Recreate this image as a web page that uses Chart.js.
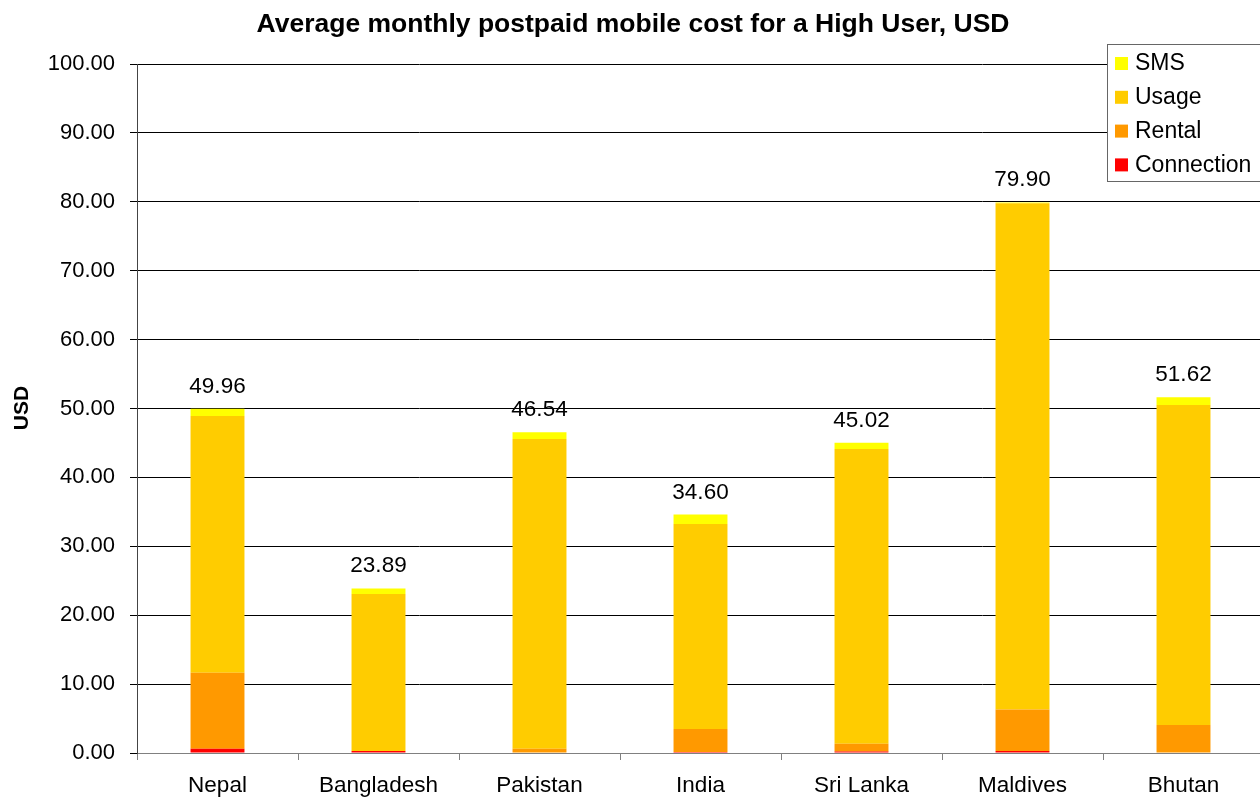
<!DOCTYPE html>
<html lang="en">
<head>
  <meta charset="UTF-8">
  <title>Postpaid mobile cost</title>
  <script src="https://cdn.jsdelivr.net/npm/chart.js"></script>
  <style>
    html, body { margin: 0; padding: 0; overflow: hidden; background: #fff; }
    #wrap { width: 1270px; height: 801px; }
  </style>
</head>
<body>
  <div id="wrap">
    <canvas id="chart" width="1270" height="801"></canvas>
  </div>
  <script>

const countries = ['Nepal', 'Bangladesh', 'Pakistan', 'India', 'Sri Lanka', 'Maldives', 'Bhutan'];
const connection = [0.60, 0.30, 0.00, 0.15, 0.20, 0.30, 0.00];
const rental     = [11.05, 0.00, 0.60, 3.33, 1.15, 6.00, 4.06];
const usage      = [37.25, 22.78, 44.97, 29.76, 42.77, 73.50, 46.44];
const sms        = [1.06, 0.81, 0.97, 1.36, 0.90, 0.10, 1.12];
const yTicks = [0, 10, 20, 30, 40, 50, 60, 70, 80, 90, 100];

const font = 'Liberation Sans, Arial, sans-serif';

// title, totals above bars, and the boxed legend at the top right
const extras = {
  id: 'extras',
  afterDraw(chart) {
    const ctx = chart.ctx;
    const y = chart.scales.y;
    ctx.save();
    ctx.fillStyle = '#000';
    ctx.textAlign = 'center';
    ctx.textBaseline = 'middle';
    ctx.font = 'bold 26.5px ' + font;
    ctx.fillText('Average monthly postpaid mobile cost for a High User, USD', 633, 25);

    // y axis title
    ctx.font = 'bold 21px ' + font;
    ctx.save();
    ctx.translate(22, 408);
    ctx.rotate(-Math.PI / 2);
    ctx.fillText('USD', 0, 0);
    ctx.restore();

    // totals
    ctx.font = '22.5px ' + font;
    ctx.textBaseline = 'bottom';
    const top = chart.getDatasetMeta(chart.data.datasets.length - 1);
    countries.forEach((c, i) => {
      const total = connection[i] + rental[i] + usage[i] + sms[i];
      ctx.fillText(total.toFixed(2), top.data[i].x, y.getPixelForValue(total) - 11);
    });

    // legend
    ctx.fillStyle = '#fff';
    ctx.fillRect(1107, 44, 160, 137);
    ctx.strokeStyle = '#666';
    ctx.lineWidth = 1;
    ctx.strokeRect(1107.5, 44.5, 160, 137);
    ctx.font = '23px ' + font;
    ctx.textAlign = 'left';
    ctx.textBaseline = 'middle';
    const ds = chart.data.datasets.slice().reverse();
    ds.forEach((d, k) => {
      const ly = 63 + k * 33.8;
      ctx.fillStyle = d.backgroundColor;
      ctx.fillRect(1115, ly - 6, 13, 13);
      ctx.fillStyle = '#000';
      ctx.fillText(d.label, 1135, ly + 1);
    });
    ctx.restore();
  }
};

const ctx = document.getElementById('chart');

const myChart = new Chart(ctx, {
  type: 'bar',
  data: {
    labels: countries,
    datasets: [
      { label: 'Connection', data: connection, backgroundColor: '#FF0000' },
      { label: 'Rental', data: rental, backgroundColor: '#FF9900' },
      { label: 'Usage', data: usage, backgroundColor: '#FFCC00' },
      { label: 'SMS', data: sms, backgroundColor: '#FFFF00' }
    ]
  },
  options: {
    responsive: false,
    animation: false,
    layout: { padding: { top: 64, right: 6, left: 0, bottom: 0 } },
    datasets: { bar: { categoryPercentage: 1, barPercentage: 0.335 } },
    plugins: {
      legend: { display: false },
      tooltip: { enabled: false }
    },
    scales: {
      x: {
        stacked: true,
        grid: { offset: true, drawOnChartArea: false, tickLength: 7, color: '#808080' },
        border: { color: '#808080' },
        ticks: { color: '#000', font: { family: font, size: 22.5 }, padding: 12 },
        afterFit(s) { s.height = 48; }
      },
      y: {
        stacked: true,
        min: 0,
        max: 100,
        afterBuildTicks(s) { s.ticks = yTicks.map(v => ({ value: v })); },
        grid: { color: '#000', tickColor: '#000', tickLength: 7 },
        border: { color: '#444' },
        ticks: {
          color: '#000',
          font: { family: font, size: 22 },
          padding: 15,
          callback: v => Number(v).toFixed(2)
        },
        afterFit(s) { s.width = 137; }
      }
    }
  },
  plugins: [extras]
});

  </script>
</body>
</html>
